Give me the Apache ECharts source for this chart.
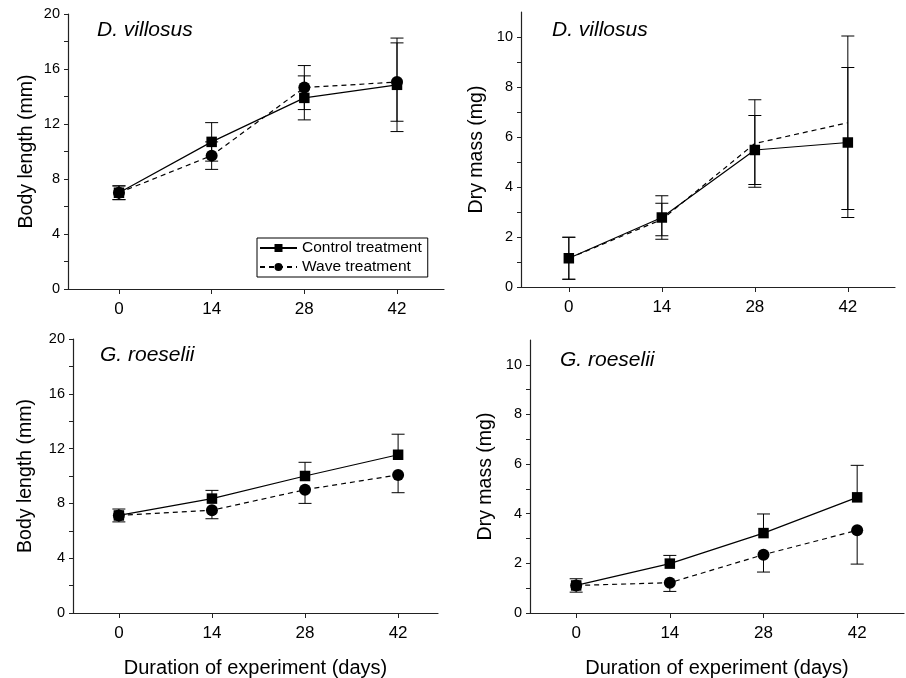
<!DOCTYPE html>
<html>
<head>
<meta charset="utf-8">
<script src="https://cdn.jsdelivr.net/npm/echarts@6/dist/echarts.min.js"></script>
<style>
  html, body { margin: 0; padding: 0; background: #fff; }
  #chart { width: 906px; height: 678px; }
</style>
</head>
<body>
<div id="chart"></div>
<script>
  // sampling days
  const days = [0, 14, 28, 42];

  // D. villosus, body length (mm)
  const dvLenControl = [7.0, 10.7, 13.9, 14.85];
  const dvLenControlSd = [0.5, 1.4, 1.6, 3.4];
  const dvLenWave = [7.0, 9.7, 14.65, 15.05];
  const dvLenWaveSd = [0.5, 1.0, 1.6, 2.85];

  // D. villosus, dry mass (mg)
  const dvMassControl = [1.15, 2.78, 5.48, 5.78];
  const dvMassControlSd = [0.84, 0.87, 1.38, 3.0];
  const dvMassWave = [1.15, 2.7, 5.74, 6.57];
  const dvMassWaveSd = [0.84, 0.65, 1.75, 3.47];

  // G. roeselii, body length (mm)
  const grLenControl = [7.12, 8.35, 10.0, 11.55];
  const grLenControlSd = [0.47, 0.6, 1.0, 1.5];
  const grLenWave = [7.12, 7.5, 9.0, 10.08];
  const grLenWaveSd = [0.47, 0.62, 1.0, 1.3];

  // G. roeselii, dry mass (mg)
  const grMassControl = [1.11, 1.99, 3.22, 4.66];
  const grMassControlSd = [0.27, 0.33, 0.77, 1.29];
  const grMassWave = [1.11, 1.22, 2.35, 3.33];
  const grMassWaveSd = [0.27, 0.35, 0.7, 1.36];

  const lenTicks = [0, 4, 8, 12, 16, 20];
  const lenMinorTicks = [0, 2, 4, 6, 8, 10, 12, 14, 16, 18, 20];
  const massTicks = [0, 2, 4, 6, 8, 10];
  const massMinorTicks = [0, 1, 2, 3, 4, 5, 6, 7, 8, 9, 10];

  const FONT = "'Liberation Sans', Arial, sans-serif";
  const AXIS_COLOR = '#222';

  const panels = [
    { grid: { left: 68, top: 14, width: 376, height: 275 }, xMin: -7.7, xMax: 49.1,
      yMax: 20, yTicks: lenTicks, yMinor: lenMinorTicks, yName: 'Body length (mm)', nameGap: 31,
      label: 'D. villosus', labelPos: [97, 20], xName: '',
      control: dvLenControl, controlSd: dvLenControlSd, wave: dvLenWave, waveSd: dvLenWaveSd,
      ctrlSide: 'both', waveSide: 'both', waveSymbol: true },
    { grid: { left: 521, top: 12, width: 374, height: 275 }, xMin: -7.2, xMax: 49.1,
      yMax: 11, yTicks: massTicks, yMinor: massMinorTicks, yName: 'Dry mass (mg)', nameGap: 34,
      label: 'D. villosus', labelPos: [552, 20], xName: '',
      control: dvMassControl, controlSd: dvMassControlSd, wave: dvMassWave, waveSd: dvMassWaveSd,
      ctrlSide: 'both', waveSide: 'both', waveSymbol: false },
    { grid: { left: 73, top: 339, width: 365, height: 274 }, xMin: -6.9, xMax: 48.0,
      yMax: 20, yTicks: lenTicks, yMinor: lenMinorTicks, yName: 'Body length (mm)', nameGap: 37,
      label: 'G. roeselii', labelPos: [100, 345], xName: 'Duration of experiment (days)',
      control: grLenControl, controlSd: grLenControlSd, wave: grLenWave, waveSd: grLenWaveSd,
      ctrlSide: 'up', waveSide: 'down', waveSymbol: true },
    { grid: { left: 530, top: 340, width: 374, height: 273 }, xMin: -6.9, xMax: 49.0,
      yMax: 11, yTicks: massTicks, yMinor: massMinorTicks, yName: 'Dry mass (mg)', nameGap: 34,
      label: 'G. roeselii', labelPos: [560, 350], xName: 'Duration of experiment (days)',
      control: grMassControl, controlSd: grMassControlSd, wave: grMassWave, waveSd: grMassWaveSd,
      ctrlSide: 'up', waveSide: 'down', waveSymbol: true }
  ];

  function errData(mean, sd, side) {
    return days.map((d, i) => [
      d, mean[i],
      side === 'up' ? mean[i] : mean[i] - sd[i],
      side === 'down' ? mean[i] : mean[i] + sd[i]
    ]);
  }

  function renderErr(params, api) {
    const x = api.value(0);
    const lo = api.coord([x, api.value(2)]);
    const hi = api.coord([x, api.value(3)]);
    const mid = api.coord([x, api.value(1)]);
    const cap = 6.5;
    const style = { stroke: '#000', lineWidth: 1 };
    const children = [
      { type: 'line', shape: { x1: lo[0], y1: lo[1], x2: hi[0], y2: hi[1] }, style: style }
    ];
    if (Math.abs(hi[1] - mid[1]) > 0.5) {
      children.push({ type: 'line', shape: { x1: hi[0] - cap, y1: hi[1], x2: hi[0] + cap, y2: hi[1] }, style: style });
    }
    if (Math.abs(lo[1] - mid[1]) > 0.5) {
      children.push({ type: 'line', shape: { x1: lo[0] - cap, y1: lo[1], x2: lo[0] + cap, y2: lo[1] }, style: style });
    }
    return { type: 'group', children: children };
  }

  const grids = [], xAxes = [], yAxes = [], series = [], graphics = [];

  panels.forEach((p, k) => {
    grids.push(Object.assign({ outerBoundsMode: 'none' }, p.grid));
    xAxes.push({
      type: 'value', gridIndex: k, min: p.xMin, max: p.xMax,
      name: p.xName, nameLocation: 'middle', nameGap: 45,
      nameTextStyle: { fontFamily: FONT, fontSize: 20, color: '#000' },
      splitLine: { show: false },
      axisLine: { onZero: false, lineStyle: { color: AXIS_COLOR, width: 1.2 } },
      axisTick: { customValues: days, length: 5, lineStyle: { color: AXIS_COLOR } },
      axisLabel: { customValues: days, margin: 12, fontFamily: FONT, fontSize: 17, color: '#000' }
    });
    yAxes.push({
      type: 'value', gridIndex: k, min: 0, max: p.yMax,
      name: p.yName, nameLocation: 'middle', nameGap: p.nameGap, nameRotate: 90,
      nameTextStyle: { fontFamily: FONT, fontSize: 19.5, color: '#000' },
      splitLine: { show: false },
      axisLine: { show: true, onZero: false, lineStyle: { color: AXIS_COLOR, width: 1.2 } },
      axisTick: { customValues: p.yMinor, length: 4, lineStyle: { color: AXIS_COLOR } },
      axisLabel: { customValues: p.yTicks, margin: 8, fontFamily: FONT, fontSize: 14.5, color: '#000' }
    });

    series.push({
      type: 'custom', xAxisIndex: k, yAxisIndex: k, renderItem: renderErr,
      data: errData(p.control, p.controlSd, p.ctrlSide), z: 1, silent: true
    });
    series.push({
      type: 'custom', xAxisIndex: k, yAxisIndex: k, renderItem: renderErr,
      data: errData(p.wave, p.waveSd, p.waveSide), z: 1, silent: true
    });
    series.push({
      name: k === 0 ? 'Control treatment' : 'control-' + k,
      type: 'line', xAxisIndex: k, yAxisIndex: k,
      data: days.map((d, i) => [d, p.control[i]]),
      symbol: 'rect', symbolSize: 10.5,
      itemStyle: { color: '#000' },
      lineStyle: { color: '#000', width: 1.2, type: 'solid' },
      z: 3, animation: false
    });
    series.push({
      name: k === 0 ? 'Wave treatment' : 'wave-' + k,
      type: 'line', xAxisIndex: k, yAxisIndex: k,
      data: days.map((d, i) => [d, p.wave[i]]),
      symbol: p.waveSymbol ? 'circle' : 'none', symbolSize: 12,
      itemStyle: { color: '#000' },
      lineStyle: { color: '#000', width: 1.2, type: [5, 4] },
      z: 4, animation: false
    });

    graphics.push({
      type: 'text', left: p.labelPos[0], top: p.labelPos[1],
      style: { text: p.label, font: 'italic 21px ' + FONT, fill: '#000' }
    });
  });

  const chart = echarts.init(document.getElementById('chart'), null, { renderer: 'canvas' });
  chart.setOption({
    backgroundColor: '#fff',
    animation: false,
    grid: grids,
    xAxis: xAxes,
    yAxis: yAxes,
    series: series,
    graphic: graphics,
    legend: {
      data: ['Control treatment', 'Wave treatment'],
      orient: 'vertical', left: 257, top: 238,
      itemWidth: 37, itemHeight: 10, itemGap: 3,
      padding: [2, 6, 2, 2],
      borderColor: '#000', borderWidth: 1,
      textStyle: { fontFamily: FONT, fontSize: 15.5, color: '#000' },
      selectedMode: false
    }
  });
</script>
</body>
</html>
